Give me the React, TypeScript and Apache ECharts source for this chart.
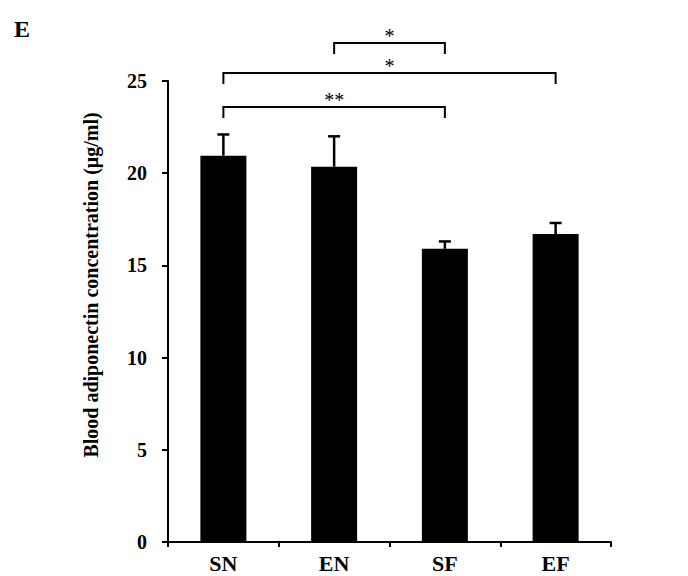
import React, { useEffect, useRef } from "react";
import * as echarts from "echarts";

const categories = ["SN", "EN", "SF", "EF"];
const means = [20.95, 20.35, 15.9, 16.7];
const errors = [1.15, 1.65, 0.4, 0.6];
const yTicks = [0, 5, 10, 15, 20, 25];
// significance brackets: [fromIndex, toIndex, level, label]
const bracketFrom = [1, 0, 0];
const bracketTo = [2, 3, 2];
const bracketLevel = [27.06, 25.43, 23.59];
const bracketLabel = ["*", "*", "**"];
const yAxisTitle = "Blood adiponectin concentration (\u03bcg/ml)";
const panelLabel = "E";

const FONT = '"Liberation Serif", "Times New Roman", serif';

export default function App() {
  const ref = useRef<HTMLDivElement>(null);
  useEffect(() => {
    if (!ref.current) return;
    const chart = echarts.init(ref.current, null, { renderer: "svg" });
    const errData = categories.map((_, i) => [i, means[i], means[i] + errors[i]]);
    const brData = bracketFrom.map((f, i) => [f, bracketTo[i], bracketLevel[i], bracketLabel[i]]);
    chart.setOption({
      animation: false,
      backgroundColor: "#ffffff",
      textStyle: { fontFamily: FONT },
      grid: { left: 168, right: 77, top: 81, bottom: 34 },
      graphic: [
        {
          type: "text",
          x: 91,
          y: 285,
          rotation: Math.PI / 2,
          style: {
            text: yAxisTitle,
            font: `bold 20px ${FONT}`,
            fill: "#000",
            align: "center",
            verticalAlign: "middle",
          },
        },
        {
          type: "text",
          x: 14,
          y: 17,
          style: {
            text: panelLabel,
            font: `bold 24px ${FONT}`,
            fill: "#000",
            align: "left",
            verticalAlign: "top",
          },
        },
      ],
      xAxis: {
        type: "category",
        data: categories,
        boundaryGap: true,
        axisLine: { lineStyle: { color: "#000", width: 2 } },
        axisTick: { show: true, length: 5, lineStyle: { color: "#000", width: 2 } },
        axisLabel: {
          color: "#000",
          fontSize: 22,
          fontWeight: "bold",
          fontFamily: FONT,
          margin: 10,
        },
      },
      yAxis: {
        type: "value",
        min: 0,
        max: 25,
        interval: 5,
        splitLine: { show: false },
        axisLine: { show: true, lineStyle: { color: "#000", width: 2 } },
        axisTick: { show: true, length: 6, lineStyle: { color: "#000", width: 2 } },
        axisLabel: {
          color: "#000",
          fontSize: 20,
          fontWeight: "bold",
          fontFamily: FONT,
          margin: 21,
          formatter: (v: number) => (yTicks.includes(v) ? String(v) : ""),
        },
      },
      series: [
        {
          type: "bar",
          data: means,
          barWidth: 46,
          itemStyle: { color: "#000" },
          z: 2,
        },
        {
          type: "custom",
          data: errData,
          encode: { x: 0, y: [1, 2] },
          z: 3,
          renderItem: (params: any, api: any) => {
            const i = api.value(0);
            const top = api.coord([i, api.value(2)]);
            const base = api.coord([i, api.value(1)]);
            const hw = 6;
            const st = { stroke: "#000", lineWidth: 2.5 };
            return {
              type: "group",
              children: [
                { type: "line", shape: { x1: base[0], y1: base[1], x2: top[0], y2: top[1] }, style: st },
                { type: "line", shape: { x1: top[0] - hw, y1: top[1], x2: top[0] + hw, y2: top[1] }, style: st },
              ],
            };
          },
        },
        {
          type: "custom",
          data: brData,
          encode: { x: [0, 1], y: 2 },
          clip: false,
          z: 4,
          renderItem: (params: any, api: any) => {
            const a = api.coord([api.value(0), api.value(2)]);
            const b = api.coord([api.value(1), api.value(2)]);
            const drop = 11;
            const st = { stroke: "#000", lineWidth: 2, fill: "none" };
            const label = brData[params.dataIndex][3] as string;
            return {
              type: "group",
              children: [
                {
                  type: "polyline",
                  shape: {
                    points: [
                      [a[0], a[1] + drop],
                      [a[0], a[1]],
                      [b[0], b[1]],
                      [b[0], b[1] + drop],
                    ],
                  },
                  style: st,
                },
                {
                  type: "text",
                  x: (a[0] + b[0]) / 2,
                  y: a[1] - 7,
                  style: {
                    text: label,
                    font: `20px ${FONT}`,
                    fill: "#000",
                    align: "center",
                    verticalAlign: "middle",
                  },
                },
              ],
            };
          },
        },
      ],
    });
    return () => chart.dispose();
  }, []);
  return (
    <div
      ref={ref}
      style={{ position: "fixed", left: 0, top: 0, width: 688, height: 576, background: "#fff" }}
    />
  );
}
